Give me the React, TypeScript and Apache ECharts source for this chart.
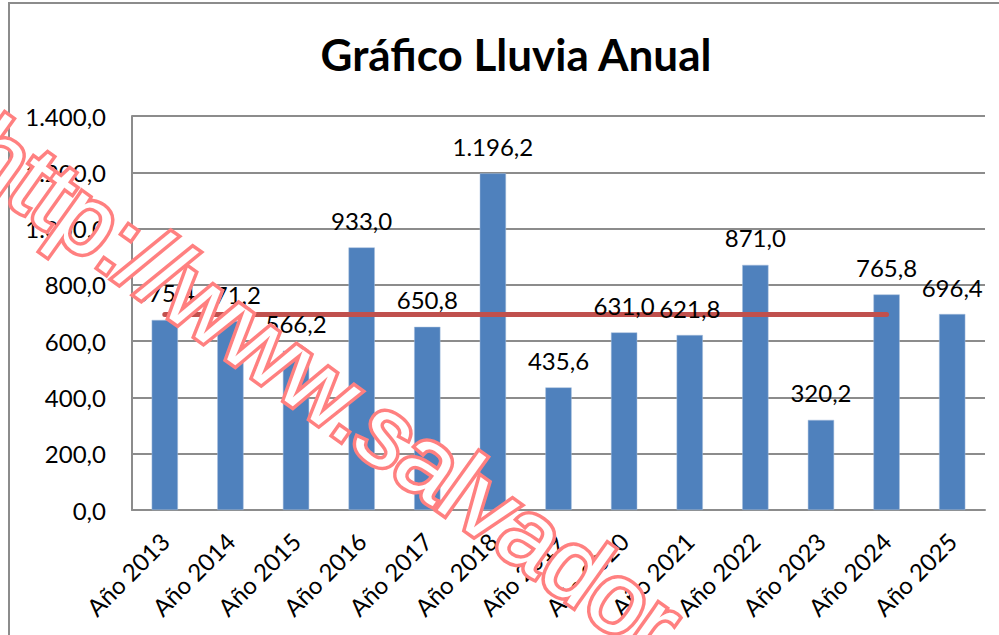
import React, { useEffect, useRef } from "react";
import * as echarts from "echarts";

const categories = [
  "Año 2013", "Año 2014", "Año 2015", "Año 2016", "Año 2017", "Año 2018", "Año 2019",
  "Año 2020", "Año 2021", "Año 2022", "Año 2023", "Año 2024", "Año 2025",
];
const rainfall = [675.4, 671.2, 566.2, 933.0, 650.8, 1196.2, 435.6, 631.0, 621.8, 871.0, 320.2, 765.8, 696.4];
const averageLine = [694.9, 694.9, 694.9, 694.9, 694.9, 694.9, 694.9, 694.9, 694.9, 694.9, 694.9, 694.9, null];
const yTicks = { min: 0, max: 1400, interval: 200 };
const titleText = "Gráfico Lluvia Anual";
const watermarkText = "http://www.salvador";

function fmt(v: number): string {
  const [i, d] = v.toFixed(1).split(".");
  return i.replace(/\B(?=(\d{3})+(?!\d))/g, ".") + "," + d;
}

const FONT = "Lato, 'Open Sans', sans-serif";

export default function App() {
  const ref = useRef<HTMLDivElement>(null);
  useEffect(() => {
    if (!ref.current) return;
    const chart = echarts.init(ref.current, null, { renderer: "svg" });
    const theta = (35.5 * Math.PI) / 180;
    chart.setOption({
      animation: false,
      backgroundColor: "#ffffff",
      title: {
        text: titleText,
        left: 511,
        top: 27,
        textAlign: "center",
        textStyle: { fontFamily: FONT, fontSize: 44, fontWeight: "bold", color: "#000" },
      },
      grid: { left: 132, right: 14, top: 116, bottom: 125, containLabel: false },
      xAxis: {
        type: "category",
        data: categories,
        axisLine: { show: true, lineStyle: { color: "#8c8c8c", width: 2 } },
        axisTick: { show: false },
        axisLabel: {
          rotate: 45,
          interval: 0,
          margin: 27,
          fontFamily: FONT,
          fontSize: 24,
          color: "#000",
        },
      },
      yAxis: {
        type: "value",
        min: yTicks.min,
        max: yTicks.max,
        interval: yTicks.interval,
        axisLine: { show: true, lineStyle: { color: "#8c8c8c", width: 2 } },
        axisTick: { show: false },
        splitLine: { show: true, lineStyle: { color: "#8c8c8c", width: 2 } },
        axisLabel: {
          margin: 26,
          fontFamily: FONT,
          fontSize: 24,
          color: "#000",
          formatter: (v: number) => fmt(v),
        },
      },
      series: [
        {
          type: "bar",
          data: rainfall,
          barWidth: "40%",
          z: 2,
          itemStyle: { color: "#4F81BD", borderColor: "#A7BEDC", borderWidth: 0.5 },
        },
        {
          type: "line",
          data: averageLine,
          z: 3,
          showSymbol: false,
          symbol: "none",
          lineStyle: { color: "#C0504D", width: 5, cap: "round" },
          itemStyle: { color: "#C0504D" },
        },
        {
          type: "bar",
          data: rainfall,
          barWidth: "40%",
          barGap: "-100%",
          z: 4,
          silent: true,
          itemStyle: { color: "rgba(0,0,0,0)" },
          label: {
            show: true,
            position: "top",
            distance: 15,
            fontFamily: FONT,
            fontSize: 24,
            color: "#000",
            formatter: (p: any) => fmt(p.value),
          },
        },
      ],
      graphic: [
        {
          type: "polyline",
          z: 50,
          shape: { points: [[9, 635], [9, 3], [999, 3]] },
          style: { stroke: "#8c8c8c", lineWidth: 2, fill: "none" },
        },
        {
          type: "text",
          z: 100,
          x: -22,
          y: 140,
          rotation: -theta,
          style: {
            text: watermarkText,
            fontFamily: "'Liberation Sans', Arial, sans-serif",
            fontSize: 98,
            fill: "#ffffff",
            stroke: "#FF8080",
            lineWidth: 7,
            align: "left",
            verticalAlign: "middle",
          },
        },
      ],
    });
    return () => chart.dispose();
  }, []);
  return (
    <div
      ref={ref}
      style={{ position: "fixed", left: 0, top: 0, width: 999, height: 635 }}
    />
  );
}
